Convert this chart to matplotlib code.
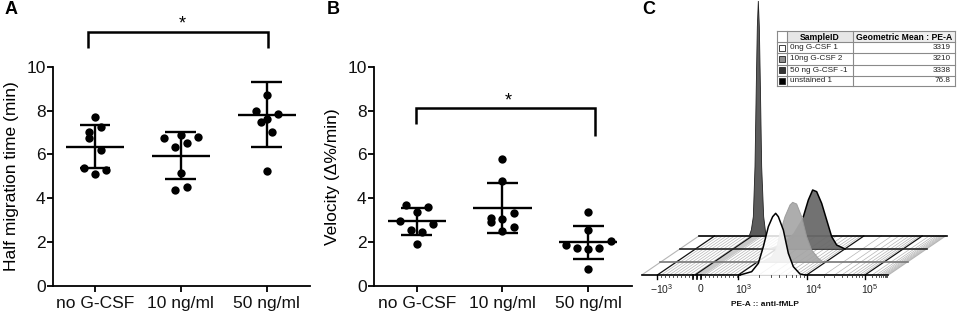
import numpy as np
import matplotlib
matplotlib.use("Agg")
import matplotlib.pyplot as plt
from matplotlib.patches import Rectangle, Polygon

plt.rcParams['font.family'] = ['Liberation Sans', 'DejaVu Sans']
plt.rcParams['mathtext.fontset'] = 'custom'
plt.rcParams['mathtext.rm'] = 'Liberation Sans'

W, H = 957, 314
categories = ['no G-CSF', '10 ng/ml', '50 ng/ml']
y_ticks = [0, 2, 4, 6, 8, 10]

# Panel A
a_x = [[0, .07, -.066, -.066, .07, -.13, .13, 0],
       [-.2, 0, .195, -.066, .066, 0, .066, -.066],
       [0, -.13, .13, 0, -.066, .066, 0]]
a_y = [[7.7, 7.25, 7.0, 6.76, 6.2, 5.4, 5.3, 5.1],
       [6.75, 6.87, 6.8, 6.35, 6.53, 5.13, 4.5, 4.38],
       [8.72, 8.0, 7.83, 7.6, 7.5, 7.0, 5.25]]
a_mean = [6.35, 5.93, 7.8]
a_low = [5.4, 4.87, 6.33]
a_high = [7.35, 7.0, 9.3]

# Panel B
b_x = [[-.13, .13, 0, -.2, .195, -.066, .066, 0],
       [0, 0, .13, -.13, -.13, 0, .13, 0],
       [0, 0, .26, -.26, -.13, 0, .13, 0]]
b_y = [[3.68, 3.59, 3.39, 2.96, 2.81, 2.57, 2.46, 1.91],
       [5.79, 4.79, 3.31, 3.09, 2.93, 3.04, 2.69, 2.52],
       [3.39, 2.55, 2.04, 1.87, 1.72, 1.69, 1.73, 0.78]]
b_mean = [2.95, 3.55, 2.0]
b_low = [2.33, 2.4, 1.25]
b_high = [3.55, 4.7, 2.75]

# Panel C: histogram outlines (panel units, 3 per pixel)
unst_x = [328, 334, 340, 345, 349, 352, 355, 358, 361, 365, 371, 378]
unst_y = [707, 690, 650, 500, 250, 80, 3, 80, 250, 500, 650, 707]
g50_x = [380, 420, 460, 490, 505, 518, 530, 545, 560, 575, 590, 615]
g50_y = [747, 735, 700, 650, 600, 570, 575, 610, 660, 710, 735, 747]
g10_x = [365, 395, 410, 420, 435, 450, 458, 470, 485, 500, 515, 535, 550]
g10_y = [786, 770, 745, 700, 650, 615, 607, 612, 650, 710, 750, 775, 786]
g0_x = [300, 335, 355, 370, 385, 398, 407, 415, 430, 445, 460, 480, 495]
g0_y = [825, 815, 790, 740, 680, 650, 640, 650, 690, 760, 800, 822, 825]
decade_pos = [52, 182, 295, 500, 675]
decade_lab = [r'$\mathregular{-10^{3}}$', '0', r'$\mathregular{10^{3}}$',
              r'$\mathregular{10^{4}}$', r'$\mathregular{10^{5}}$']
table_head = ['SampleID', 'Geometric Mean : PE-A']
table_names = ['0ng G-CSF 1', '10ng G-CSF 2', '50 ng G-CSF -1', 'unstained 1']
table_vals = ['3319', '3210', '3338', '76.8']
table_cols = ['#ffffff', '#8c8c8c', '#333333', '#000000']

fig = plt.figure(figsize=(W / 100, H / 100), dpi=100)


def make_ax(l, r, xlim):
    ax = fig.add_axes([l / W, 1 - 286 / H, (r - l) / W, (286 - 66.7) / H])
    ax.set_xlim(*xlim)
    ax.set_ylim(0, 10)
    ax.patch.set_alpha(0)
    for s in ['top', 'right']:
        ax.spines[s].set_visible(False)
    for s in ['left', 'bottom']:
        ax.spines[s].set_linewidth(1.3)
    ax.set_xticks([1, 2, 3], categories)
    ax.set_yticks(y_ticks)
    ax.tick_params(axis='both', width=1.3, length=4.5, labelsize=12.5, pad=3, labelcolor='#111111')
    ax.tick_params(axis='y', pad=1)
    return ax


def scatter(ax, xs, ys, mean, low, high):
    for i in range(3):
        c = i + 1
        ax.plot([c + d for d in xs[i]], ys[i], 'o', color='k', ms=6, mew=0, zorder=3, clip_on=False)
        ax.plot([c - .34, c + .34], [mean[i]] * 2, color='k', lw=1.7, solid_capstyle='butt')
        ax.plot([c, c], [low[i], high[i]], color='k', lw=1.7, solid_capstyle='butt')
        for v in (low[i], high[i]):
            ax.plot([c - .18, c + .18], [v, v], color='k', lw=1.7, solid_capstyle='butt')


axA = make_ax(53.3, 310, (0.514, 3.504))
scatter(axA, a_x, a_y, a_mean, a_low, a_high)
axA.set_ylabel('Half migration time (min)', fontsize=12.5, labelpad=5)
axA.plot([1 - .08, 1 - .08, 3.02, 3.02], [10.87, 11.6, 11.6, 10.87], color='k', lw=1.8, clip_on=False, solid_joinstyle='miter', solid_capstyle='butt')
axA.text(2.02, 11.55, '*', ha='center', va='bottom', fontsize=13)

axB = make_ax(374.3, 631.7, (0.506, 3.506))
scatter(axB, b_x, b_y, b_mean, b_low, b_high)
axB.set_ylabel('Velocity (Δ%/min)', fontsize=12.5, labelpad=5)
axB.plot([0.99, 0.99, 3.08, 3.08], [7.37, 8.12, 8.12, 6.85], color='k', lw=1.8, solid_joinstyle='miter', solid_capstyle='butt')
axB.text(2.07, 8.07, '*', ha='center', va='bottom', fontsize=13)

fig.text(5 / W, 1 - 10 / H, 'A', fontsize=13, fontweight='bold', ha='left', va='center')
fig.text(327 / W, 1 - 10 / H, 'B', fontsize=13, fontweight='bold', ha='left', va='center')
fig.text(642 / W, 1 - 10 / H, 'C', fontsize=13, fontweight='bold', ha='left', va='center')

# Panel C in its own unit box
axC = fig.add_axes([640 / W, 0, 317 / W, 1])
axC.set_xlim(0, 951)
axC.set_ylim(942, 0)
axC.axis('off')

DX, DY = 173, -118
GRAY = '#b5b5b5'


def diag(x, color, lw, z=1):
    axC.plot([x, x + DX], [825, 825 + DY], color=color, lw=lw, zorder=z, solid_capstyle='butt')


minors = list(np.arange(64, 295, 12))
for a, b in [(295, 500), (500, 675)]:
    minors += [a + (b - a) * np.log10(k) for k in range(2, 10)]
for k in range(2, 10):
    minors.append(675 + 175 * np.log10(k) * .4)
# hatch bands
for x in minors:
    diag(x, GRAY, 0.5)
diag(5, GRAY, 0.8)
diag(745, GRAY, 0.8)
axC.add_patch(Polygon([(165, 825), (192, 825), (192 + DX, 707), (165 + DX, 707)], color='#c9c9c9', zorder=1, lw=0))
for x in [52, 165, 295, 500, 675]:
    diag(x, '#111111', 0.9, 2)

axC.plot([178, 920], [707, 707], color='k', lw=1.2, zorder=2)
axC.plot([120, 862], [747, 747], color='#222222', lw=1.2, zorder=2)
axC.plot([60, 805], [786, 786], color='#777777', lw=1.2, zorder=2)

axC.fill(unst_x, unst_y, color='#5c5c5c', ec='#222222', lw=0.6, zorder=3)
axC.fill(g50_x, g50_y, fc='#6a6a6a', ec='none', alpha=.95, zorder=4)
axC.plot(g50_x[3:], g50_y[3:], color='k', lw=1.1, zorder=4)
axC.fill(g10_x, g10_y, fc='#a6a6a6', ec='#999999', lw=0.7, alpha=.92, zorder=5)
axC.fill(g0_x, g0_y, fc='white', ec='none', alpha=.85, zorder=6)
axC.plot(g0_x, g0_y, color='k', lw=1.1, zorder=7)

axC.plot([5, 300], [825, 825], color='k', lw=1.2, zorder=8)
axC.plot([300, 495], [825, 825], color='#cccccc', lw=1.2, zorder=5)
axC.plot([495, 745], [825, 825], color='k', lw=1.2, zorder=8)
for x in [52, 295, 500, 675]:
    axC.plot([x, x], [825, 838], color='k', lw=1, zorder=8)
for x in minors:
    axC.plot([x, x], [825, 832], color='#333333', lw=0.6, zorder=8)
for x in [160, 172, 184]:
    axC.plot([x, x], [825, 836], color='k', lw=1.2, zorder=8)
for x, lab, off in zip(decade_pos, decade_lab, [13, 0, 17, 20, 15]):
    axC.text(x + off, 868, lab, ha='center', va='center', fontsize=7.5, color='#222222')
axC.text(375, 912, 'PE-A :: anti-fMLP', ha='center', va='center', fontsize=6, fontweight='bold', color='#111111')

# table
col_edges = [412, 442, 638, 945]
row_edges = [93, 127, 160, 194, 227, 258]
LC = '#8a8a8a'
axC.add_patch(Rectangle((412, 93), 533, 165, fc='white', ec='none', zorder=9))
axC.add_patch(Rectangle((442, 95), 196, 32, fc='#e6e6e6', ec='none', zorder=9))
axC.add_patch(Rectangle((638, 95), 307, 32, fc='#eeeeee', ec='none', zorder=9))
for x in col_edges:
    axC.plot([x, x], [93, 258], color=LC, lw=0.8, zorder=10)
for y in row_edges:
    axC.plot([412, 945], [y, y], color=LC, lw=0.8, zorder=10)
axC.text(540, 111, table_head[0], ha='center', va='center', fontsize=6.2, fontweight='bold', zorder=11)
axC.text(792, 111, table_head[1], ha='center', va='center', fontsize=6.2, fontweight='bold', zorder=11)
for i, (nm, v, c) in enumerate(zip(table_names, table_vals, table_cols)):
    yc = (row_edges[i + 1] + row_edges[i + 2]) / 2
    axC.add_patch(Rectangle((417, yc - 9), 18, 18, fc=c, ec='#222222', lw=0.6, zorder=11))
    axC.text(450, yc, nm, ha='left', va='center', fontsize=5.9, color='#222222', zorder=11)
    axC.text(932, yc, v, ha='right', va='center', fontsize=5.9, color='#222222', zorder=11)

fig.savefig('out.png', dpi=100)
